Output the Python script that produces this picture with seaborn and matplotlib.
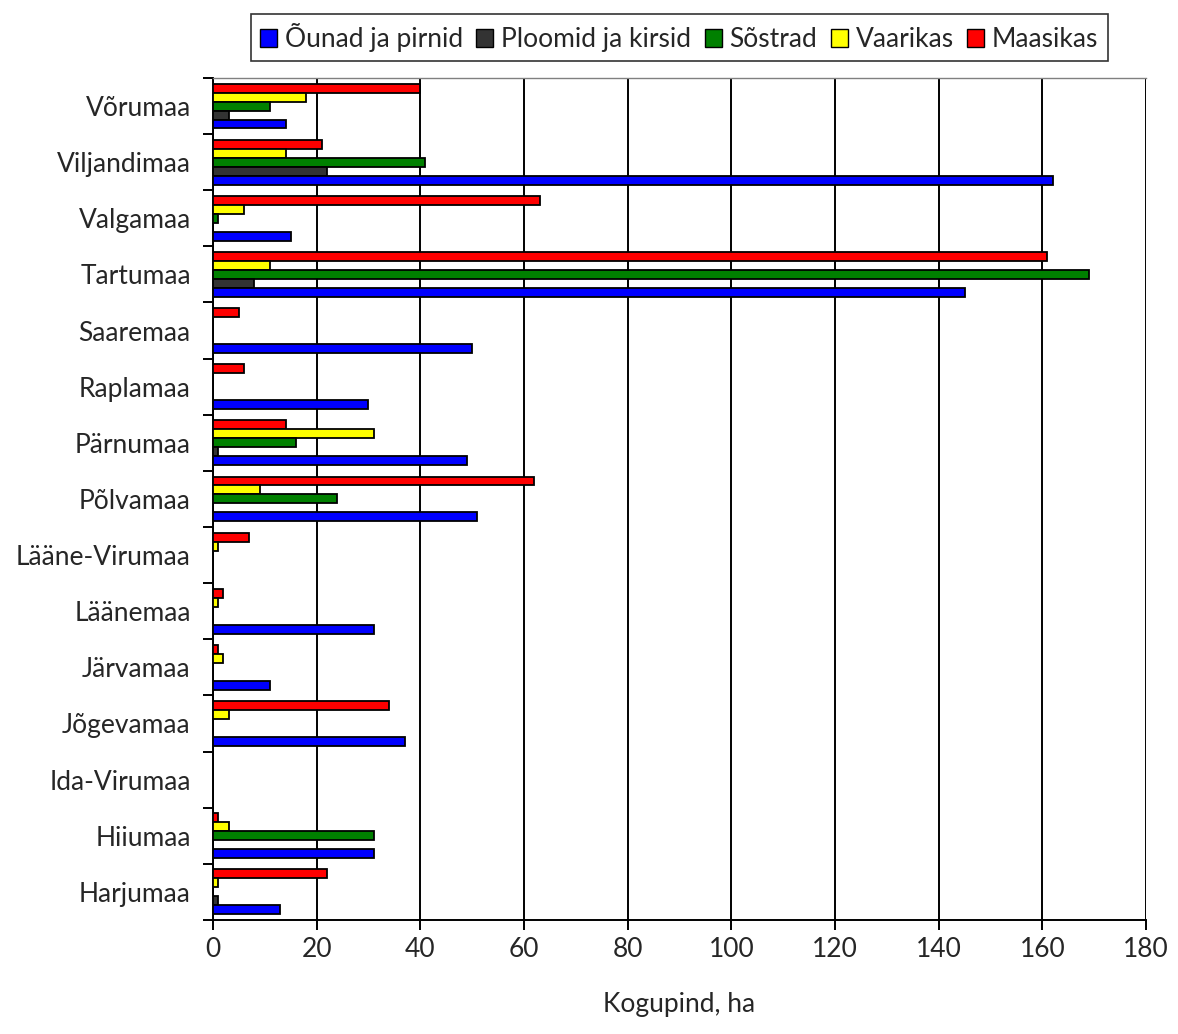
import matplotlib
matplotlib.use("Agg")
import matplotlib.pyplot as plt
from matplotlib.patches import Patch
import numpy as np
import pandas as pd
import seaborn as sns

# Counties, top to bottom
counties = ["Võrumaa", "Viljandimaa", "Valgamaa", "Tartumaa", "Saaremaa",
            "Raplamaa", "Pärnumaa", "Põlvamaa", "Lääne-Virumaa", "Läänemaa",
            "Järvamaa", "Jõgevamaa", "Ida-Virumaa", "Hiiumaa", "Harjumaa"]

# Total area (ha) per fruit crop, in the county order above
ounad = [14, 162, 15, 145, 50, 30, 49, 51, 0, 31, 11, 37, 0, 31, 13]
ploomid = [3, 22, 0, 8, 0, 0, 1, 0, 0, 0, 0, 0, 0, 0, 1]
sostrad = [11, 41, 1, 169, 0, 0, 16, 24, 0, 0, 0, 0, 0, 31, 0]
vaarikas = [18, 14, 6, 11, 0, 0, 31, 9, 1, 1, 2, 3, 0, 3, 1]
maasikas = [40, 21, 63, 161, 5, 6, 14, 62, 7, 2, 1, 34, 0, 1, 22]

series_names = ["Õunad ja pirnid", "Ploomid ja kirsid", "Sõstrad", "Vaarikas", "Maasikas"]
series_values = [ounad, ploomid, sostrad, vaarikas, maasikas]
series_colors = ["#0000FF", "#333333", "#008000", "#FFFF00", "#FF0000"]

x_ticks = [0, 20, 40, 60, 80, 100, 120, 140, 160, 180]
x_label = "Kogupind, ha"

rows = []
for name, vals in zip(series_names, series_values):
    for c, v in zip(counties, vals):
        rows.append({"Maakond": c, "Kultuur": name, "Pind": v})
df = pd.DataFrame(rows)

sns.set_theme(style="white")
plt.rcParams["font.family"] = ["Lato", "DejaVu Sans"]

FS = 19

fig = plt.figure(figsize=(11.78, 10.34), dpi=100)
ax = fig.add_axes([0.1808, 0.1103, 0.792, 0.8143])

palette = dict(zip(series_names, series_colors))
# Within each county the first series sits at the bottom of the group
hue_order = series_names[::-1]
sns.barplot(data=df, y="Maakond", x="Pind", hue="Kultuur", order=counties,
            hue_order=hue_order, palette=palette, orient="h", width=0.8,
            edgecolor="black", linewidth=1.3, saturation=1, ax=ax,
            legend=False, zorder=3)

ax.set_xlim(0, 180)
ax.set_ylim(len(counties) - 0.5, -0.5)
ax.set_xticks(x_ticks)
ax.set_xticklabels([str(t) for t in x_ticks], fontsize=FS)
ax.grid(axis="x", color="black", linewidth=1.4, zorder=0)
ax.grid(axis="y", visible=False)
ax.set_axisbelow(True)

ax.set_yticks(np.arange(len(counties)))
ax.set_yticklabels(counties, fontsize=FS)
ax.set_yticks(np.arange(len(counties) + 1) - 0.5, minor=True)
ax.tick_params(axis="y", which="major", length=0, pad=16)
ax.tick_params(axis="y", which="minor", length=7, width=1.4, color="black", left=True)
ax.tick_params(axis="x", which="major", length=7, width=1.4, color="black", bottom=True, pad=5)

ax.set_xlabel(x_label, fontsize=FS, labelpad=22)
ax.set_ylabel("")

for side in ["left", "bottom"]:
    ax.spines[side].set_color("black")
    ax.spines[side].set_linewidth(1.4)
ax.spines["right"].set_visible(False)
ax.spines["top"].set_color("#808080")
ax.spines["top"].set_linewidth(1.0)

handles = [Patch(facecolor=c, edgecolor="black", linewidth=1.0) for c in series_colors]
leg = fig.legend(handles, series_names, loc="center", bbox_to_anchor=(0.5765, 0.9635),
                 ncol=5, fontsize=FS, frameon=True, fancybox=False, handlelength=0.65,
                 handleheight=0.7, handletextpad=0.3, columnspacing=0.5,
                 borderpad=0.35, borderaxespad=0.2, edgecolor="black")
leg.get_frame().set_linewidth(1.2)

fig.savefig("out.png", dpi=100, facecolor="white")
